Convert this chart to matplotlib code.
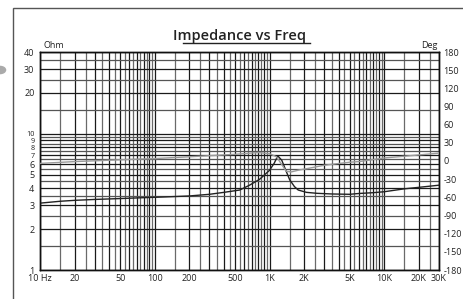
import matplotlib
matplotlib.use('Agg')
import matplotlib.pyplot as plt
import numpy as np
from matplotlib.lines import Line2D
from matplotlib.patches import Rectangle, Circle

plt.rcParams['font.family'] = ['Open Sans', 'DejaVu Sans']

# impedance curve (Hz, Ohm)
imp_freq = [10, 15, 20, 30, 50, 80, 120, 200, 300, 400, 550, 670, 820, 1000,
            1100, 1180, 1280, 1400, 1500, 1650, 1780, 2100, 2600, 3500, 5000,
            6000, 8000, 10000, 15000, 20000, 30000]
imp_ohm = [3.1, 3.2, 3.25, 3.3, 3.35, 3.4, 3.44, 3.5, 3.6, 3.72, 3.87, 4.2,
           4.64, 5.4, 6.1, 6.9, 6.4, 5.3, 4.6, 4.1, 3.87, 3.72, 3.66, 3.62,
           3.6, 3.65, 3.7, 3.76, 3.95, 4.05, 4.2]

# phase curve (Hz, deg)
ph_freq = [10, 20, 50, 100, 200, 500, 800, 1000, 1150, 1280, 1400, 1550,
           1800, 2200, 3000, 5000, 6000, 10000, 20000, 30000]
ph_deg = [-4, -1, 2, 4, 7, 11, 14, 12, 7, -6, -17, -18, -15, -12, -7, -2,
          -1, 5, 10, 13]

x_labels = ['10 Hz', '20', '50', '100', '200', '500', '1K', '2K', '5K', '10K', '20K', '30K']
x_label_pos = [10, 20, 50, 100, 200, 500, 1000, 2000, 5000, 10000, 20000, 30000]
y_labels = ['1', '2', '3', '4', '5', '6', '7', '8', '9', '10', '20', '30', '40']
y_label_pos = [1, 2, 3, 4, 5, 6, 7, 8, 9, 10, 20, 30, 40]
deg_ticks = [180, 150, 120, 90, 60, 30, 0, -30, -60, -90, -120, -150, -180]

fig = plt.figure(figsize=(4.63, 2.99), dpi=100)
ax = fig.add_axes([40 / 463, 29 / 299, 399 / 463, 218 / 299])
ax.set_xscale('log')
ax.set_yscale('log')
ax.set_xlim(10, 30000)
ax.set_ylim(1, 40)

# grid lines
xgrid = list(np.arange(10, 100, 5)) + list(np.arange(100, 1000, 50)) + \
    list(np.arange(1000, 10000, 500)) + list(np.arange(10000, 30001, 5000))
for f in xgrid:
    lead = f / 10 ** np.floor(np.log10(f))
    c = '#1a1a1a' if abs(lead - round(lead)) < 1e-9 else '#6a6a6a'
    ax.axvline(f, color=c, lw=0.9, zorder=1)
ygrid = list(np.arange(1, 10, 0.5)) + list(np.arange(10, 41, 5))
for v in ygrid:
    lead = v / 10 ** np.floor(np.log10(v))
    c = '#1a1a1a' if abs(lead - round(lead)) < 1e-9 else '#555555'
    ax.axhline(v, color=c, lw=0.9, zorder=1)

ax.plot(imp_freq, imp_ohm, color='#222222', lw=1.0, zorder=3)

ax2 = ax.twinx()
ax2.set_ylim(-180, 180)
ax2.plot(ph_freq, ph_deg, color='#9a9a9a', lw=1.0, zorder=3)

ax.set_xticks(x_label_pos)
ax.set_xticklabels(x_labels)
ax.set_xticks([], minor=True)
ax.set_yticks(y_label_pos)
ax.set_yticklabels(y_labels)
ax.set_yticks([], minor=True)
ax.tick_params(length=0, labelsize=6.5, colors='#222222', pad=3)
ax.tick_params(axis='y', pad=4)
# the 7/8/9/10 labels sit very close together
for lab, v in zip(ax.get_yticklabels(), y_label_pos):
    if v in (7, 8, 9, 10):
        lab.set_fontsize(5.2)
ax2.set_yticks(deg_ticks)
ax2.set_yticklabels([str(d) for d in deg_ticks])
ax2.tick_params(length=0, labelsize=6.5, colors='#222222', pad=3)
for a in (ax, ax2):
    for s in a.spines.values():
        s.set_color('#111111')
        s.set_linewidth(1.0)

ax.text(0.008, 1.01, 'Ohm', transform=ax.transAxes, fontsize=6.5, ha='left', va='bottom', color='#222222')
ax2.text(0.995, 1.01, 'Deg', transform=ax.transAxes, fontsize=6.5, ha='right', va='bottom', color='#222222')

fig.text(239 / 463, 1 - 36 / 299, 'Impedance vs Freq', fontsize=10.5, fontweight='semibold',
         ha='center', va='center', color='#222222')
fig.add_artist(Line2D([183 / 463, 310 / 463], [1 - 43 / 299, 1 - 43 / 299],
                      color='#222222', lw=1.0, transform=fig.transFigure))

# outer frame
fig.add_artist(Rectangle((12.5 / 463, -0.1), 1.0, 1 - 8 / 299 + 0.1, fill=False,
                         edgecolor='#555555', lw=1.0, transform=fig.transFigure))
fig.add_artist(Circle((0, 1 - 70 / 299), 0.012, color='#aaaaaa', transform=fig.transFigure))

fig.savefig('out.png', dpi=100)
